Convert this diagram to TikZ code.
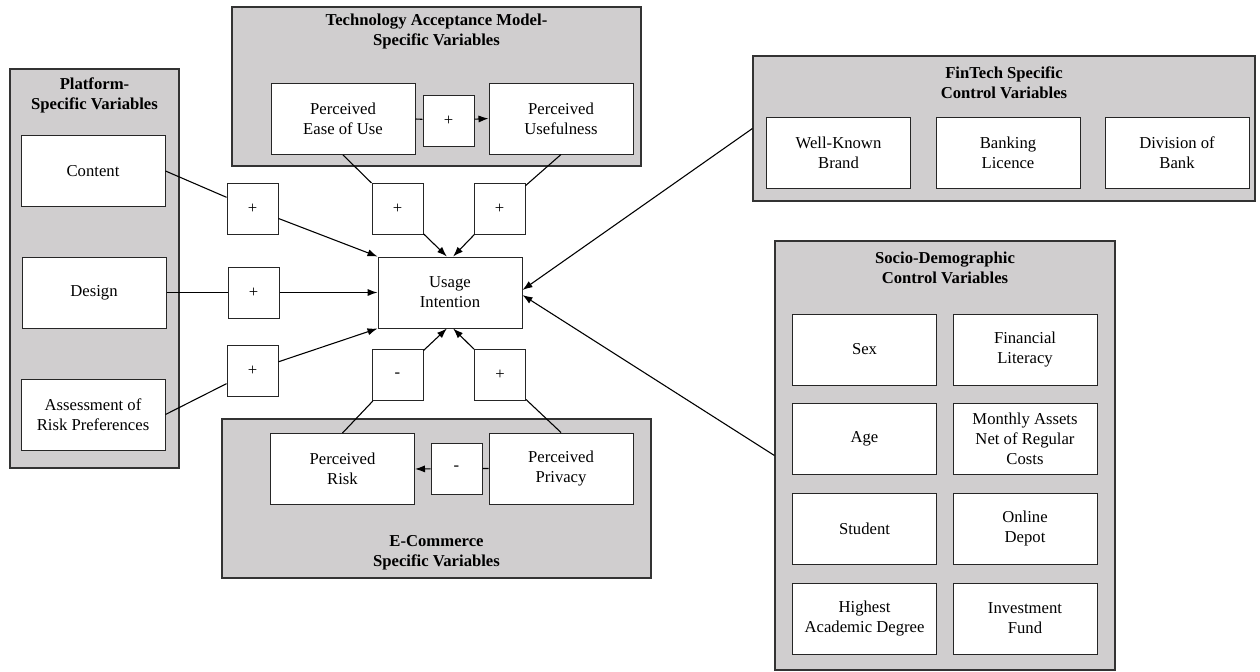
\documentclass[tikz,border=0pt]{standalone}
\usepackage{fontspec}
\setmainfont{Liberation Serif}
\usetikzlibrary{arrows.meta}
\definecolor{grpgray}{RGB}{208,206,207}
\tikzset{
  grp/.style={draw=black!80, fill=grpgray, line width=0.7pt, inner sep=0pt},
  ttl/.style={font=\bfseries, align=center, inner sep=0pt},
  box/.style={draw=black!85, fill=white, line width=0.6pt, minimum width=86.4pt, minimum height=42.6pt, align=center, inner sep=1pt},
  sign/.style={draw=black!85, fill=white, line width=0.6pt, minimum size=30.6pt, inner sep=0pt},
  arr/.style={line width=0.65pt, -{Latex[length=6pt,width=4.3pt]}},
  ln/.style={line width=0.6pt}
}

\begin{document}
\begin{tikzpicture}[x=0.6pt, y=-0.6pt]
\useasboundingbox (0,0) rectangle (1260,671);
% groups
\node [grp, minimum width=101.4pt, minimum height=239.4pt] (platform) at (94.5,268.5) {};
\node [grp, minimum width=245.4pt, minimum height=95.4pt] (tam) at (436.5,86.5) {};
\node [grp, minimum width=257.4pt, minimum height=95.4pt] (ecom) at (436.5,498.5) {};
\node [grp, minimum width=301.2pt, minimum height=87pt] (fintech) at (1004,128.5) {};
\node [grp, minimum width=204pt, minimum height=257.4pt] (socio) at (945,455.5) {};
\node [ttl] (platformttl) at (94.5,95) {Platform-\\Specific Variables};
\node [ttl] (tamttl) at (436.5,31) {Technology Acceptance Model-\\Specific Variables};
\node [ttl] (ecomttl) at (436.5,553) {E-Commerce\\Specific Variables};
\node [ttl] (fintechttl) at (1004,83) {FinTech Specific\\Control Variables};
\node [ttl] (sociottl) at (945,268) {Socio-Demographic\\Control Variables};

% platform
\node [box] (content) at (93,171) {Content};
\node [box] (design) at (94,292.5) {Design};
\node [box] (assess) at (93,414.5) {Assessment of\\Risk Preferences};
\node [sign] (p1) at (252.5,208.5) {+};
\node [sign] (p2) at (253.5,292.5) {+};
\node [sign] (p3) at (252.5,370.5) {+};

% centre
\node [box] (usage) at (450,292.5) {Usage\\Intention};

% tam
\node [box] (peou) at (343,119) {Perceived\\Ease of Use};
\node [box] (pu) at (561,118.5) {Perceived\\Usefulness};
\node [sign] (ptam) at (448.5,120.5) {+};
\node [sign] (pt1) at (397.5,208.5) {+};
\node [sign] (pt2) at (499.5,208.5) {+};

% e-commerce
\node [box] (pr) at (342.5,469) {Perceived\\Risk};
\node [box] (pp) at (561,468.5) {Perceived\\Privacy};
\node [sign] (mec) at (456.5,468.5) {-};
\node [sign] (pe1) at (397.5,375) {-};
\node [sign] (pe2) at (500,375) {+};

% fintech
\node [box] (brand) at (838.5,152.5) {Well-Known\\Brand};
\node [box] (licence) at (1008,152.5) {Banking\\Licence};
\node [box] (division) at (1177,152.5) {Division of\\Bank};

% socio-demographic
\node [box] (sex) at (864.5,349.5) {Sex};
\node [box] (literacy) at (1025,349.5) {Financial\\Literacy};
\node [box] (age) at (864.5,438.5) {Age};
\node [box] (assets) at (1025,438.5) {Monthly Assets\\Net of Regular\\Costs};
\node [box] (student) at (864.5,528.5) {Student};
\node [box] (depot) at (1025,528.5) {Online\\Depot};
\node [box] (degree) at (864.5,618.5) {Highest\\Academic Degree};
\node [box] (fund) at (1025,618.5) {Investment\\Fund};

% connectors
\draw [arr] (content.east) -- (p1) -- (usage.north west);
\draw [arr] (design.east) -- (p2) -- (usage.west);
\draw [arr] (assess.east) -- (p3) -- (usage.south west);
\draw [arr] (peou.east) -- (ptam) -- (pu.west);
\draw [arr] (peou.south) -- (pt1) -- (usage.95);
\draw [arr] (pu.south) -- (pt2) -- (usage.85);
\draw [arr] (pp.west) -- (mec) -- (pr.east);
\draw [arr] (pr.north) -- (pe1) -- (usage.265);
\draw [arr] (pp.north) -- (pe2) -- (usage.275);
\draw [arr] (fintech.west) -- (usage.2);
\draw [arr] (socio.west) -- (usage.-2);
\end{tikzpicture}
\end{document}
